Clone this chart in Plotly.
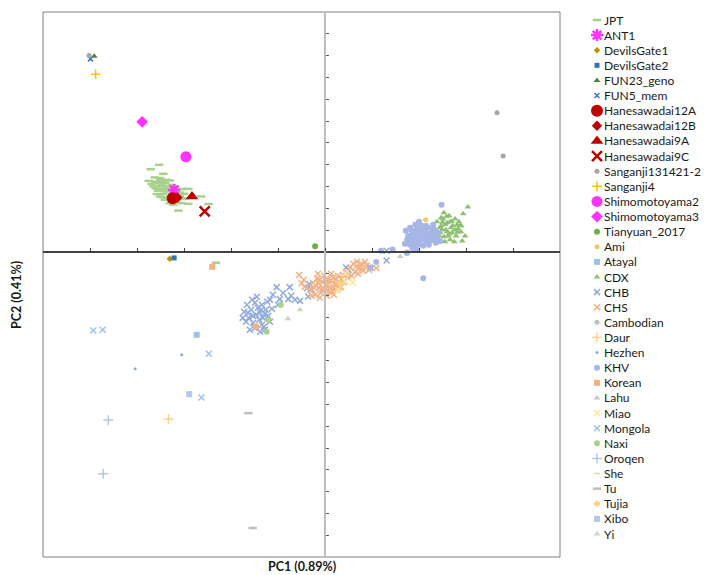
import plotly.graph_objects as go

# ---------------- data: PC1 / PC2 scores per population ----------------
JPT_PC1 = [-0.0371, -0.0353, -0.0344, -0.0362, -0.0351, -0.0337, -0.0330, -0.0369, -0.0358, -0.0348,
           -0.0341, -0.0351, -0.0337, -0.0330, -0.0319, -0.0358, -0.0344, -0.0330, -0.0309, -0.0302,
           -0.0291, -0.0300, -0.0309, -0.0341, -0.0330, -0.0316, -0.0305, -0.0291, -0.0323, -0.0312,
           -0.0264, -0.0248, -0.0365, -0.0355, -0.0344, -0.0362, -0.0348, -0.0326, -0.0316, -0.0323,
           -0.0305, -0.0351, -0.0337, -0.0340, -0.0355, -0.0325, -0.0345, -0.0360, -0.0335, -0.0320,
           -0.0298, -0.0375, -0.0350, -0.0232]
JPT_PC2 = [0.0379, 0.0399, 0.0358, 0.0341, 0.0338, 0.0330, 0.0327, 0.0311, 0.0315, 0.0307,
           0.0300, 0.0288, 0.0277, 0.0288, 0.0300, 0.0265, 0.0266, 0.0254, 0.0272, 0.0288,
           0.0289, 0.0266, 0.0254, 0.0239, 0.0223, 0.0231, 0.0223, 0.0220, 0.0216, 0.0189,
           0.0254, 0.0219, 0.0300, 0.0300, 0.0284, 0.0322, 0.0322, 0.0307, 0.0277, 0.0235,
           0.0242, 0.0254, 0.0246, 0.0315, 0.0280, 0.0265, 0.0250, 0.0290, 0.0290, 0.0250,
           0.0245, 0.0325, 0.0330, -0.0050]
ANT1_PC1 = [-0.0321]
ANT1_PC2 = [0.0284]
DEVILSGATE1_PC1 = [-0.0330]
DEVILSGATE1_PC2 = [-0.0032]
DEVILSGATE2_PC1 = [-0.0321]
DEVILSGATE2_PC2 = [-0.0028]
FUN23_PC1 = [-0.0491]
FUN23_PC2 = [0.0897]
FUN5_PC1 = [-0.0499]
FUN5_PC2 = [0.0885]
HANE12A_PC1 = [-0.0324]
HANE12A_PC2 = [0.0246]
HANE12B_PC1 = [-0.0314]
HANE12B_PC2 = [0.0249]
HANE9A_PC1 = [-0.0283]
HANE9A_PC2 = [0.0254]
HANE9C_PC1 = [-0.0256]
HANE9C_PC2 = [0.0185]
SANGANJI1314_PC1 = [-0.0502, 0.0366, 0.0379]
SANGANJI1314_PC2 = [0.0901, 0.0638, 0.0440]
SANGANJI4_PC1 = [-0.0488]
SANGANJI4_PC2 = [0.0815]
SHIMO2_PC1 = [-0.0296]
SHIMO2_PC2 = [0.0436]
SHIMO3_PC1 = [-0.0389]
SHIMO3_PC2 = [0.0596]
TIANYUAN_PC1 = [-0.0021]
TIANYUAN_PC2 = [0.0025]
AMI_PC1 = [0.0214]
AMI_PC2 = [0.0147]
ATAYAL_PC1 = [-0.0273]
ATAYAL_PC2 = [-0.0381]
CDX_PC1 = [0.0228, 0.0234, 0.0238, 0.0240, 0.0245, 0.0247, 0.0251, 0.0253, 0.0257, 0.0260,
           0.0264, 0.0266, 0.0270, 0.0272, 0.0277, 0.0279, 0.0283, 0.0285, 0.0289, 0.0294,
           0.0255, 0.0262, 0.0268, 0.0275, 0.0281, 0.0249, 0.0243, 0.0260, 0.0266, 0.0236,
           0.0287, 0.0298, 0.0253, 0.0304, 0.0292, 0.0247, 0.0259, 0.0256, 0.0270, 0.0282,
           0.0264, 0.0250, 0.0290, 0.0276, 0.0245]
CDX_PC2 = [0.0073, 0.0106, 0.0138, 0.0055, 0.0087, 0.0119, 0.0151, 0.0069, 0.0101, 0.0133,
           0.0165, 0.0055, 0.0087, 0.0119, 0.0151, 0.0073, 0.0106, 0.0138, 0.0092, 0.0174,
           0.0046, 0.0073, 0.0110, 0.0046, 0.0124, 0.0101, 0.0073, 0.0092, 0.0138, 0.0083,
           0.0119, 0.0073, 0.0179, 0.0206, 0.0050, 0.0156, 0.0162, 0.0125, 0.0140, 0.0090,
           0.0082, 0.0135, 0.0120, 0.0100, 0.0110]
CHB_PC1 = [-0.0172, -0.0166, -0.0162, -0.0157, -0.0153, -0.0149, -0.0147, -0.0143, -0.0140, -0.0138,
           -0.0134, -0.0132, -0.0130, -0.0126, -0.0123, -0.0121, -0.0117, -0.0113, -0.0155, -0.0168,
           -0.0160, -0.0149, -0.0138, -0.0128, -0.0117, -0.0175, -0.0145, -0.0134, -0.0153, -0.0128,
           -0.0164, -0.0136, -0.0103, -0.0089, -0.0075, -0.0096, -0.0078, -0.0064, -0.0053, -0.0072,
           -0.0038, -0.0036, -0.0033, -0.0028, -0.0111, -0.0100, 0.0050, 0.0131, 0.0131, 0.0045,
           0.0096]
CHB_PC2 = [-0.0275, -0.0243, -0.0303, -0.0266, -0.0326, -0.0234, -0.0289, -0.0257, -0.0312, -0.0280,
           -0.0243, -0.0303, -0.0344, -0.0266, -0.0229, -0.0294, -0.0321, -0.0261, -0.0220, -0.0321,
           -0.0358, -0.0349, -0.0367, -0.0358, -0.0220, -0.0303, -0.0206, -0.0335, -0.0294, -0.0284,
           -0.0280, -0.0266, -0.0162, -0.0189, -0.0162, -0.0217, -0.0217, -0.0220, -0.0225, -0.0202,
           -0.0167, -0.0205, -0.0148, -0.0174, -0.0197, -0.0243, -0.0083, -0.0040, 0.0005, -0.0072,
           -0.0073]
CHS_PC1 = [-0.0032, -0.0026, -0.0021, -0.0017, -0.0013, -0.0009, -0.0006, -0.0002, 0.0000, 0.0002,
           0.0004, 0.0006, 0.0011, 0.0015, 0.0017, 0.0021, 0.0026, 0.0028, 0.0032, 0.0036,
           -0.0019, -0.0011, -0.0004, 0.0009, 0.0019, -0.0015, -0.0028, 0.0013, 0.0023, 0.0030,
           0.0038, 0.0053, 0.0060, 0.0064, 0.0068, 0.0072, 0.0077, 0.0081, 0.0085, 0.0089,
           0.0094, 0.0057, 0.0045, 0.0049, -0.0055, -0.0050, 0.0109, -0.0043, -0.0045,
           -0.0015, -0.0006, 0.0004, 0.0013, 0.0019, 0.0023, -0.0023, -0.0011, 0.0000, 0.0009,
           0.0034, 0.0040, 0.0066, 0.0079, 0.0070]
CHS_PC2 = [-0.0174, -0.0142, -0.0197, -0.0124, -0.0165, -0.0188, -0.0138, -0.0110, -0.0174, -0.0151,
           -0.0202, -0.0128, -0.0165, -0.0183, -0.0119, -0.0151, -0.0174, -0.0110, -0.0142, -0.0124,
           -0.0156, -0.0211, -0.0165, -0.0147, -0.0197, -0.0101, -0.0202, -0.0101, -0.0128, -0.0165,
           -0.0106, -0.0073, -0.0055, -0.0092, -0.0046, -0.0073, -0.0055, -0.0087, -0.0046, -0.0064,
           -0.0083, -0.0110, -0.0092, -0.0119, -0.0106, -0.0144, -0.0075, -0.0161, -0.0128,
           -0.0142, -0.0174, -0.0156, -0.0133, -0.0170, -0.0147, -0.0165, -0.0128, -0.0128, -0.0183,
           -0.0161, -0.0138, -0.0069, -0.0073, -0.0101]
CAMBODIAN_PC1 = [0.0190, 0.0215]
CAMBODIAN_PC2 = [0.0080, 0.0070]
DAUR_PC1 = [-0.0333]
DAUR_PC2 = [-0.0767]
HEZHEN_PC1 = [-0.0305, -0.0404]
HEZHEN_PC2 = [-0.0472, -0.0537]
KHV_PC1 = [0.0181, 0.0185, 0.0189, 0.0194, 0.0198, 0.0202, 0.0206, 0.0211, 0.0215, 0.0219,
           0.0223, 0.0228, 0.0232, 0.0236, 0.0192, 0.0200, 0.0213, 0.0221, 0.0230, 0.0209,
           0.0183, 0.0187, 0.0196, 0.0204, 0.0217, 0.0226, 0.0234, 0.0238, 0.0177, 0.0179,
           0.0194, 0.0211, 0.0202, 0.0219, 0.0172, 0.0170, 0.0240, 0.0245, 0.0248, 0.0209,
           0.0119, 0.0144, 0.0175, 0.0186, 0.0194, 0.0177, 0.0109, 0.0174, 0.0097,
           0.0185, 0.0198, 0.0189, 0.0202, 0.0215, 0.0206, 0.0223, 0.0181, 0.0194, 0.0175,
           0.0211, 0.0228]
KHV_PC2 = [0.0110, 0.0078, 0.0050, 0.0101, 0.0069, 0.0037, 0.0092, 0.0060, 0.0119, 0.0083,
           0.0050, 0.0106, 0.0073, 0.0041, 0.0124, 0.0138, 0.0101, 0.0032, 0.0124, 0.0028,
           0.0041, 0.0023, 0.0028, 0.0064, 0.0064, 0.0087, 0.0101, 0.0064, 0.0073, 0.0055,
           0.0060, 0.0083, 0.0110, 0.0110, 0.0096, 0.0037, 0.0087, 0.0050, 0.0216, -0.0121,
           0.0005, 0.0011, -0.0003, 0.0017, 0.0012, 0.0043, -0.0047, -0.0006, -0.0072,
           0.0096, 0.0087, 0.0069, 0.0055, 0.0046, 0.0119, 0.0073, 0.0032, 0.0041, 0.0055,
           0.0106, 0.0055]
KOREAN_PC1 = [-0.0147, -0.0240]
KOREAN_PC2 = [-0.0343, -0.0069]
LAHU_PC1 = [0.0160]
LAHU_PC2 = [-0.0022]
MIAO_PC1 = [0.0043, 0.0043, 0.0059, 0.0028]
MIAO_PC2 = [-0.0098, -0.0136, -0.0141, -0.0174]
MONGOLA_PC1 = [-0.0493, -0.0473, -0.0247, -0.0263]
MONGOLA_PC2 = [-0.0361, -0.0358, -0.0468, -0.0668]
NAXI_PC1 = [-0.0094, -0.0121, -0.0124]
NAXI_PC2 = [-0.0243, -0.0312, -0.0367]
OROQEN_PC1 = [-0.0461, -0.0472]
OROQEN_PC2 = [-0.0772, -0.1018]
SHE_PC1 = [0.0010]
SHE_PC2 = [-0.0150]
TU_PC1 = [-0.0163, -0.0154]
TU_PC2 = [-0.0740, -0.1267]
TUJIA_PC1 = [0.0032]
TUJIA_PC2 = [-0.0147]
XIBO_PC1 = [-0.0289]
XIBO_PC2 = [-0.0653]
YI_PC1 = [-0.0053, -0.0079]
YI_PC2 = [-0.0266, -0.0307]

GROUP_NAMES = ["JPT", "ANT1", "DevilsGate1", "DevilsGate2", "FUN23_geno", "FUN5_mem",
               "Hanesawadai12A", "Hanesawadai12B", "Hanesawadai9A", "Hanesawadai9C",
               "Sanganji131421-2", "Sanganji4", "Shimomotoyama2", "Shimomotoyama3",
               "Tianyuan_2017", "Ami", "Atayal", "CDX", "CHB", "CHS", "Cambodian", "Daur",
               "Hezhen", "KHV", "Korean", "Lahu", "Miao", "Mongola", "Naxi", "Oroqen",
               "She", "Tu", "Tujia", "Xibo", "Yi"]
GROUP_PC1 = [JPT_PC1, ANT1_PC1, DEVILSGATE1_PC1, DEVILSGATE2_PC1, FUN23_PC1, FUN5_PC1,
             HANE12A_PC1, HANE12B_PC1, HANE9A_PC1, HANE9C_PC1, SANGANJI1314_PC1, SANGANJI4_PC1,
             SHIMO2_PC1, SHIMO3_PC1, TIANYUAN_PC1, AMI_PC1, ATAYAL_PC1, CDX_PC1, CHB_PC1, CHS_PC1,
             CAMBODIAN_PC1, DAUR_PC1, HEZHEN_PC1, KHV_PC1, KOREAN_PC1, LAHU_PC1, MIAO_PC1,
             MONGOLA_PC1, NAXI_PC1, OROQEN_PC1, SHE_PC1, TU_PC1, TUJIA_PC1, XIBO_PC1, YI_PC1]
GROUP_PC2 = [JPT_PC2, ANT1_PC2, DEVILSGATE1_PC2, DEVILSGATE2_PC2, FUN23_PC2, FUN5_PC2,
             HANE12A_PC2, HANE12B_PC2, HANE9A_PC2, HANE9C_PC2, SANGANJI1314_PC2, SANGANJI4_PC2,
             SHIMO2_PC2, SHIMO3_PC2, TIANYUAN_PC2, AMI_PC2, ATAYAL_PC2, CDX_PC2, CHB_PC2, CHS_PC2,
             CAMBODIAN_PC2, DAUR_PC2, HEZHEN_PC2, KHV_PC2, KOREAN_PC2, LAHU_PC2, MIAO_PC2,
             MONGOLA_PC2, NAXI_PC2, OROQEN_PC2, SHE_PC2, TU_PC2, TUJIA_PC2, XIBO_PC2, YI_PC2]

X_TITLE = "PC1 (0.89%)"
Y_TITLE = "PC2 (0.41%)"

# ---------------- marker styles: symbol, color, size, stroke width ----------------
STYLE = {
    "JPT": ("line-ew-open", "#A9D18E", 6, 2.5),
    "ANT1": ("asterisk-open", "#FF33FF", 10, 2.5),
    "DevilsGate1": ("diamond", "#BF9000", 5, 0),
    "DevilsGate2": ("square", "#2E75B6", 5, 0),
    "FUN23_geno": ("triangle-up", "#548235", 6, 0),
    "FUN5_mem": ("x-thin-open", "#4472C4", 5, 1.5),
    "Hanesawadai12A": ("circle", "#C00000", 12, 0),
    "Hanesawadai12B": ("diamond", "#C00000", 8, 0),
    "Hanesawadai9A": ("triangle-up", "#C00000", 11, 0),
    "Hanesawadai9C": ("x-thin-open", "#C00000", 10, 2.5),
    "Sanganji131421-2": ("circle", "#A5A5A5", 5, 0),
    "Sanganji4": ("cross-thin-open", "#FFC000", 7, 1.5),
    "Shimomotoyama2": ("circle", "#FF33FF", 11, 0),
    "Shimomotoyama3": ("diamond", "#FF33FF", 9, 0),
    "Tianyuan_2017": ("circle", "#70AD47", 6, 0),
    "Ami": ("circle", "#FFC35A", 5, 0),
    "Atayal": ("square", "#9DC3E6", 6, 0),
    "CDX": ("triangle-up", "#8DC070", 6, 0),
    "CHB": ("x-thin-open", "#8FAADC", 6, 1.5),
    "CHS": ("x-thin-open", "#F4B183", 6, 1.5),
    "Cambodian": ("circle", "#BFBFBF", 5, 0),
    "Daur": ("cross-thin-open", "#FFD38A", 7, 1.5),
    "Hezhen": ("circle", "#8FAADC", 3, 0),
    "KHV": ("circle", "#A6B6E6", 6, 0),
    "Korean": ("square", "#F4B183", 6, 0),
    "Lahu": ("triangle-up", "#C9C9C9", 6, 0),
    "Miao": ("x-thin-open", "#FFE699", 6, 1.5),
    "Mongola": ("x-thin-open", "#9DC3E6", 6, 1.5),
    "Naxi": ("circle", "#A9D18E", 6, 0),
    "Oroqen": ("cross-thin-open", "#B4C7E7", 7, 1.5),
    "She": ("line-ew-open", "#F8CBAD", 4, 1.5),
    "Tu": ("line-ew-open", "#BFBFBF", 6, 2.5),
    "Tujia": ("circle", "#FFD38A", 6, 0),
    "Xibo": ("square", "#B4C7E7", 6, 0),
    "Yi": ("triangle-up", "#C8D7C0", 6, 0),
}

# ---------------- layout geometry (page pixels; the page body has an 8px margin) ----------------
BODY = 8
W, H = 711 - BODY, 575 - BODY
PLOT_L, PLOT_R, PLOT_T, PLOT_B = 43, 560, 12, 557        # target page pixels of the plot frame
ML, MT = PLOT_L - BODY, PLOT_T - BODY
MB = H - (PLOT_B - BODY)
MR = 0
PW = W - ML - MR
MAIN_RIGHT = (PLOT_R - PLOT_L) / PW
LEG_X0 = 590                                             # page x where the legend column starts
LEG_LEFT = (LEG_X0 - PLOT_L) / PW
LEG_FIRST, LEG_LAST = 20, 534                            # page y of first / last legend row
LEG_STEP = (LEG_LAST - LEG_FIRST) / (len(GROUP_NAMES) - 1)
X_RANGE = [-0.06, 0.05]
Y_RANGE = [-0.14, 0.11]
FONT = "Lato, Carlito, 'Open Sans', sans-serif"


def marker_of(name):
    sym, col, size, lw = STYLE[name]
    return dict(symbol=sym, color=col, size=size, line=dict(color=col, width=lw))


fig = go.Figure()
for name, pc1, pc2 in zip(GROUP_NAMES, GROUP_PC1, GROUP_PC2):
    fig.add_trace(go.Scatter(x=pc1, y=pc2, mode="markers", name=name, marker=marker_of(name),
                             showlegend=False, xaxis="x", yaxis="y"))

# custom legend column (one row per population)
annotations = []
for i, name in enumerate(GROUP_NAMES):
    fig.add_trace(go.Scatter(x=[7], y=[i], mode="markers", marker=marker_of(name),
                             showlegend=False, hoverinfo="skip", xaxis="x2", yaxis="y2"))
    annotations.append(dict(x=13, y=i, xref="x2", yref="y2", text=name, showarrow=False,
                            xanchor="left", yanchor="middle", borderpad=0,
                            font=dict(family=FONT, size=12, color="#1a1a1a")))

annotations.append(dict(x=MAIN_RIGHT / 2, y=(PLOT_B - 567) / (PLOT_B - PLOT_T), xref="paper", yref="paper",
                        text="<b>" + X_TITLE + "</b>", showarrow=False, xanchor="center", yanchor="middle",
                        font=dict(family=FONT, size=12.5, color="#1a1a1a")))
annotations.append(dict(x=(16 - PLOT_L) / PW, y=(PLOT_B - 295) / (PLOT_B - PLOT_T), xref="paper", yref="paper",
                        text="<b>" + Y_TITLE + "</b>", showarrow=False, textangle=-90,
                        xanchor="center", yanchor="middle",
                        font=dict(family=FONT, size=12.5, color="#1a1a1a")))

x_zero_frac = (0 - X_RANGE[0]) / (X_RANGE[1] - X_RANGE[0])
y_zero_frac = (0 - Y_RANGE[0]) / (Y_RANGE[1] - Y_RANGE[0])

fig.update_layout(
    width=W, height=H,
    margin=dict(l=ML, r=MR, t=MT, b=MB, pad=0),
    paper_bgcolor="white", plot_bgcolor="white",
    showlegend=False,
    font=dict(family=FONT),
    xaxis=dict(domain=[0, MAIN_RIGHT], range=X_RANGE, showgrid=False, zeroline=False,
               showline=True, linecolor="#404040", linewidth=1.5,
               ticks="inside", ticklen=3, tickwidth=1, tickcolor="#404040",
               tick0=0, dtick=0.01, showticklabels=False,
               anchor="free", position=y_zero_frac),
    yaxis=dict(domain=[0, 1], range=Y_RANGE, showgrid=False, zeroline=False,
               showline=True, linecolor="#BFBFBF", linewidth=2,
               ticks="inside", ticklen=3, tickwidth=1, tickcolor="#595959",
               tick0=0, dtick=0.01, showticklabels=False,
               anchor="free", position=MAIN_RIGHT * x_zero_frac),
    xaxis2=dict(domain=[LEG_LEFT, 1], range=[0, 711 - LEG_X0], visible=False, fixedrange=True,
                anchor="y2"),
    yaxis2=dict(domain=[0, 1],
                range=[(PLOT_B - LEG_FIRST) / LEG_STEP, (PLOT_T - LEG_FIRST) / LEG_STEP],
                visible=False, fixedrange=True, anchor="x2"),
    annotations=annotations,
    shapes=[dict(type="rect", xref="paper", yref="paper", x0=0, x1=MAIN_RIGHT, y0=0, y1=1,
                 line=dict(color="#7F7F7F", width=1), layer="below")],
)

fig.write_html("out.html")
